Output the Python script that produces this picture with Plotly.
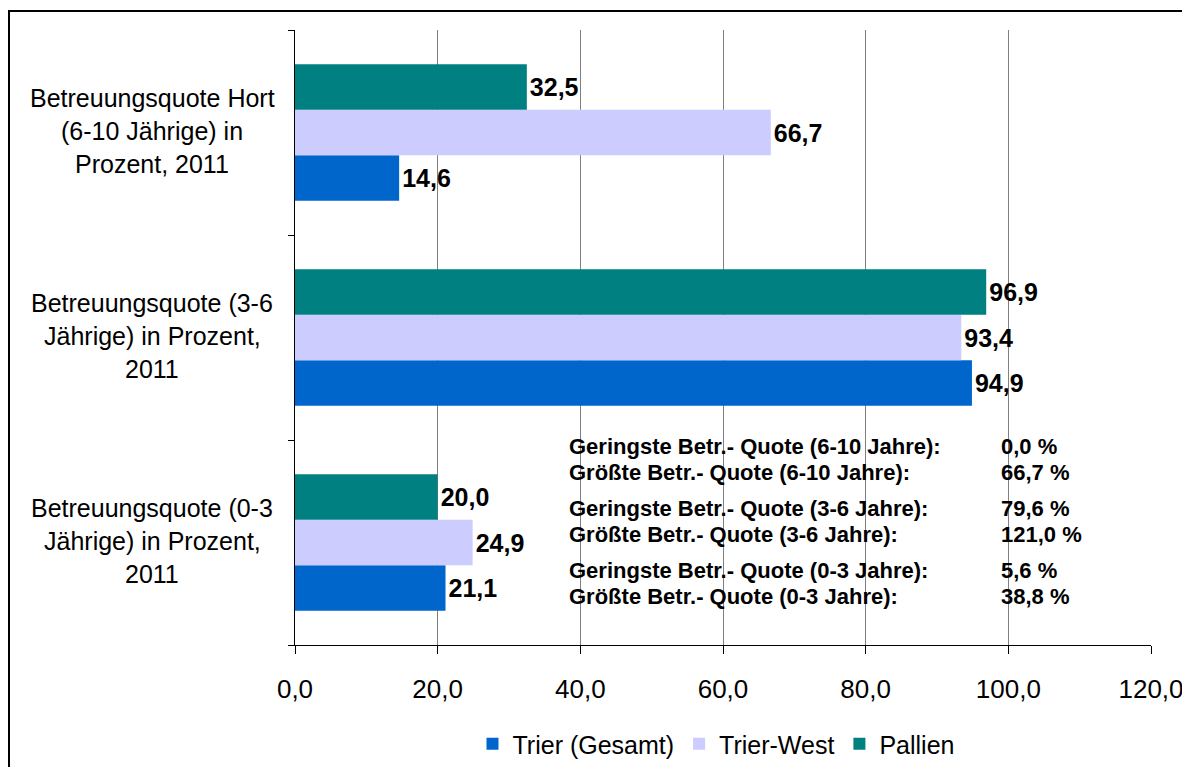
import plotly.graph_objects as go

categories = ["Betreuungsquote (0-3 Jährige) in Prozent, 2011",
              "Betreuungsquote (3-6 Jährige) in Prozent, 2011",
              "Betreuungsquote Hort (6-10 Jährige) in Prozent, 2011"]
category_lines = [["Betreuungsquote (0-3", "Jährige) in Prozent,", "2011"],
                  ["Betreuungsquote (3-6", "Jährige) in Prozent,", "2011"],
                  ["Betreuungsquote Hort", "(6-10 Jährige) in", "Prozent, 2011"]]
series_names = ["Trier (Gesamt)", "Trier-West", "Pallien"]
trier_gesamt = [21.1, 94.9, 14.6]
trier_west = [24.9, 93.4, 66.7]
pallien = [20.0, 96.9, 32.5]
colors = ["#0066CC", "#CCCCFF", "#008080"]

info_labels = ["Geringste Betr.- Quote (6-10 Jahre):", "Größte Betr.- Quote (6-10 Jahre):",
               "Geringste Betr.- Quote (3-6 Jahre):", "Größte Betr.- Quote (3-6 Jahre):",
               "Geringste Betr.- Quote (0-3 Jahre):", "Größte Betr.- Quote (0-3 Jahre):"]
info_values = ["0,0 %", "66,7 %", "79,6 %", "121,0 %", "5,6 %", "38,8 %"]

FONT = "Liberation Sans, Arial, sans-serif"

fig = go.Figure()
for name, vals, col in zip(series_names, [trier_gesamt, trier_west, pallien], colors):
    fig.add_trace(go.Bar(
        y=categories, x=vals, name=name, orientation="h",
        marker=dict(color=col, line=dict(width=0)),
        texttemplate="%{x:.1f}", textposition="outside",
        textfont=dict(family=FONT, size=25, color="black", weight="bold"),
        cliponaxis=False,
    ))

OFF = 8  # page body margin
W, H = 1190 - OFF, 767 - OFF
L, R, T, B = 295 - OFF, W - (1151 - OFF), 30 - OFF, H - (645 - OFF)
pw, ph = W - L - R, H - T - B


def px_x(ref_x):
    return (ref_x - OFF - L) / pw


def px_y(ref_y):
    return (T + ph - (ref_y - OFF)) / ph


annotations = []
for cat, lines in zip(categories, category_lines):
    for i, line in enumerate(lines):
        annotations.append(dict(
            x=px_x(152), xref="paper", y=cat, yref="y",
            text=line, showarrow=False, xanchor="center", yanchor="middle",
            yshift=(1 - i) * 33 + 2,
            font=dict(family=FONT, size=25, color="black")))

info_y = [446, 472, 508, 534, 570, 596]
for lab, val, py in zip(info_labels, info_values, info_y):
    annotations.append(dict(x=px_x(567), xref="paper", y=px_y(py), yref="paper",
                            text=lab, showarrow=False, xanchor="left", yanchor="middle",
                            font=dict(family=FONT, size=22, color="black", weight="bold")))
    annotations.append(dict(x=px_x(999), xref="paper", y=px_y(py), yref="paper",
                            text=val, showarrow=False, xanchor="left", yanchor="middle",
                            font=dict(family=FONT, size=22, color="black", weight="bold")))

fig.update_layout(
    width=W, height=H,
    margin=dict(l=L, r=R, t=T, b=B, autoexpand=False),
    paper_bgcolor="white", plot_bgcolor="white",
    barmode="group", bargap=0.335, bargroupgap=0,
    separators=",.",
    font=dict(family=FONT, size=25, color="black"),
    showlegend=True,
    legend=dict(orientation="h", xref="container", yref="container",
                x=(716 - OFF) / W, xanchor="center",
                y=1 - (744 - OFF) / H, yanchor="middle",
                font=dict(family=FONT, size=25, color="black"),
                traceorder="normal", itemwidth=30),
    xaxis=dict(range=[0, 120], dtick=20, tickformat=".1f", automargin=False,
               showgrid=True, gridcolor="#808080", gridwidth=1,
               showline=True, linecolor="black", linewidth=1,
               ticks="outside", ticklen=8, tickcolor="black",
               ticklabelstandoff=13, zeroline=False,
               tickfont=dict(family=FONT, size=26, color="black")),
    yaxis=dict(categoryorder="array", categoryarray=categories, automargin=False,
               showticklabels=False, showgrid=False,
               showline=True, linecolor="black", linewidth=1,
               ticks="outside", ticklen=6, tickcolor="black", tickson="boundaries"),
    annotations=annotations,
    shapes=[dict(type="rect", xref="paper", yref="paper",
                 x0=(1 - L) / pw, x1=px_x(1188),
                 y0=px_y(775), y1=px_y(11),
                 line=dict(color="black", width=2), fillcolor="rgba(0,0,0,0)", layer="below")],
)

fig.write_html("out.html")
